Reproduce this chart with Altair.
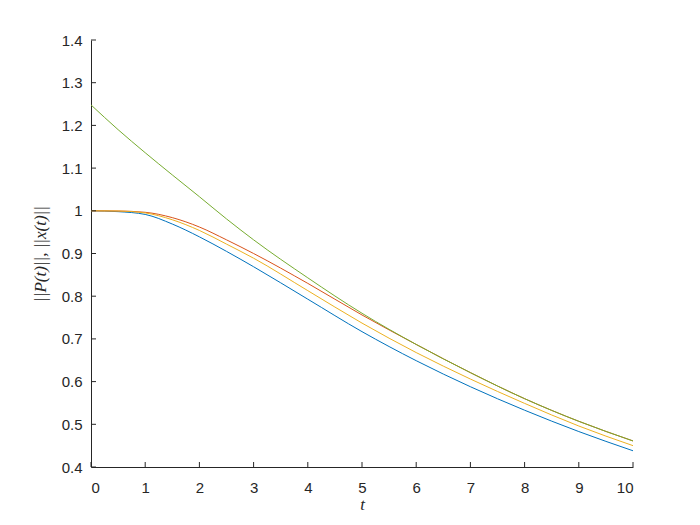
import altair as alt
import pandas as pd

t = [0, 0.5, 1, 1.5, 2, 2.5, 3, 4, 5, 6, 7, 8, 9, 10]
blue = [1.0, 0.998, 0.9915, 0.969, 0.939, 0.905, 0.869, 0.793, 0.717, 0.649, 0.588, 0.533, 0.483, 0.438]
red = [1.0, 0.9995, 0.9965, 0.984, 0.962, 0.932, 0.900, 0.830, 0.756, 0.687, 0.621, 0.560, 0.507, 0.461]
yellow = [1.0, 0.9995, 0.995, 0.979, 0.954, 0.922, 0.889, 0.813, 0.737, 0.668, 0.606, 0.549, 0.496, 0.450]
green = [1.248, 1.19, 1.136, 1.084, 1.033, 0.981, 0.932, 0.843, 0.760, 0.687, 0.621, 0.560, 0.507, 0.461]

series_names = ["s1", "s2", "s3", "s4"]
series_vals = [blue, red, yellow, green]
colors = ["#0072BD", "#D95319", "#EDB120", "#77AC30"]

rows = []
for name, vals in zip(series_names, series_vals):
    for ti, v in zip(t, vals):
        rows.append({"t": ti, "v": v, "s": name})
df = pd.DataFrame(rows)

xticks = list(range(0, 11))
yticks = [0.4, 0.5, 0.6, 0.7, 0.8, 0.9, 1.0, 1.1, 1.2, 1.3, 1.4]

W, H = 542, 427
axcol = "#262626"

xscale = alt.Scale(domain=[0, 10], nice=False, zero=False)
yscale = alt.Scale(domain=[0.4, 1.4], nice=False, zero=False)

lines = alt.Chart(df).mark_line(strokeWidth=1, interpolate="monotone", clip=True).encode(
    x=alt.X("t:Q", scale=xscale,
            axis=alt.Axis(values=xticks, ticks=False, labelPadding=13, domainColor=axcol,
                          labelColor=axcol, labelFontSize=15, labelFont="Liberation Sans",
                          grid=False, title="t", titleFont="Liberation Serif",
                          titleFontStyle="italic", titleFontWeight="normal", titleFontSize=17,
                          titleColor=axcol, titlePadding=1, format="d")),
    y=alt.Y("v:Q", scale=yscale,
            axis=alt.Axis(values=yticks, ticks=False, labelPadding=9, domainColor=axcol,
                          labelColor=axcol, labelFontSize=15, labelFont="Liberation Sans",
                          grid=False, title="||P(t)||, ||x(t)||", titleFont="Liberation Serif",
                          titleFontStyle="italic", titleFontWeight="normal", titleFontSize=17,
                          titleColor=axcol, titlePadding=12,
                          labelExpr="datum.value == 1 ? '1' : format(datum.value, '.1f')")),
    color=alt.Color("s:N", scale=alt.Scale(domain=series_names, range=colors), legend=None),
    order=alt.Order("s:N"),
)

xt = pd.DataFrame({"t": xticks})
yt = pd.DataFrame({"v": yticks})

xtick_layer = alt.Chart(xt).mark_rule(color=axcol, strokeWidth=1).encode(
    x=alt.X("t:Q", scale=xscale), y=alt.value(H), y2=alt.value(H - 5))
ytick_layer = alt.Chart(yt).mark_rule(color=axcol, strokeWidth=1).encode(
    y=alt.Y("v:Q", scale=yscale), x=alt.value(0), x2=alt.value(5))

chart = alt.layer(lines, xtick_layer, ytick_layer).properties(
    width=W, height=H,
    autosize=alt.AutoSizeParams(type="none"),
    padding={"left": 83, "top": 32, "right": 50, "bottom": 50},
).configure_view(stroke=None).configure_axis(domainWidth=1)

chart.save("out.html", embed_options={"renderer": "svg", "actions": False})
